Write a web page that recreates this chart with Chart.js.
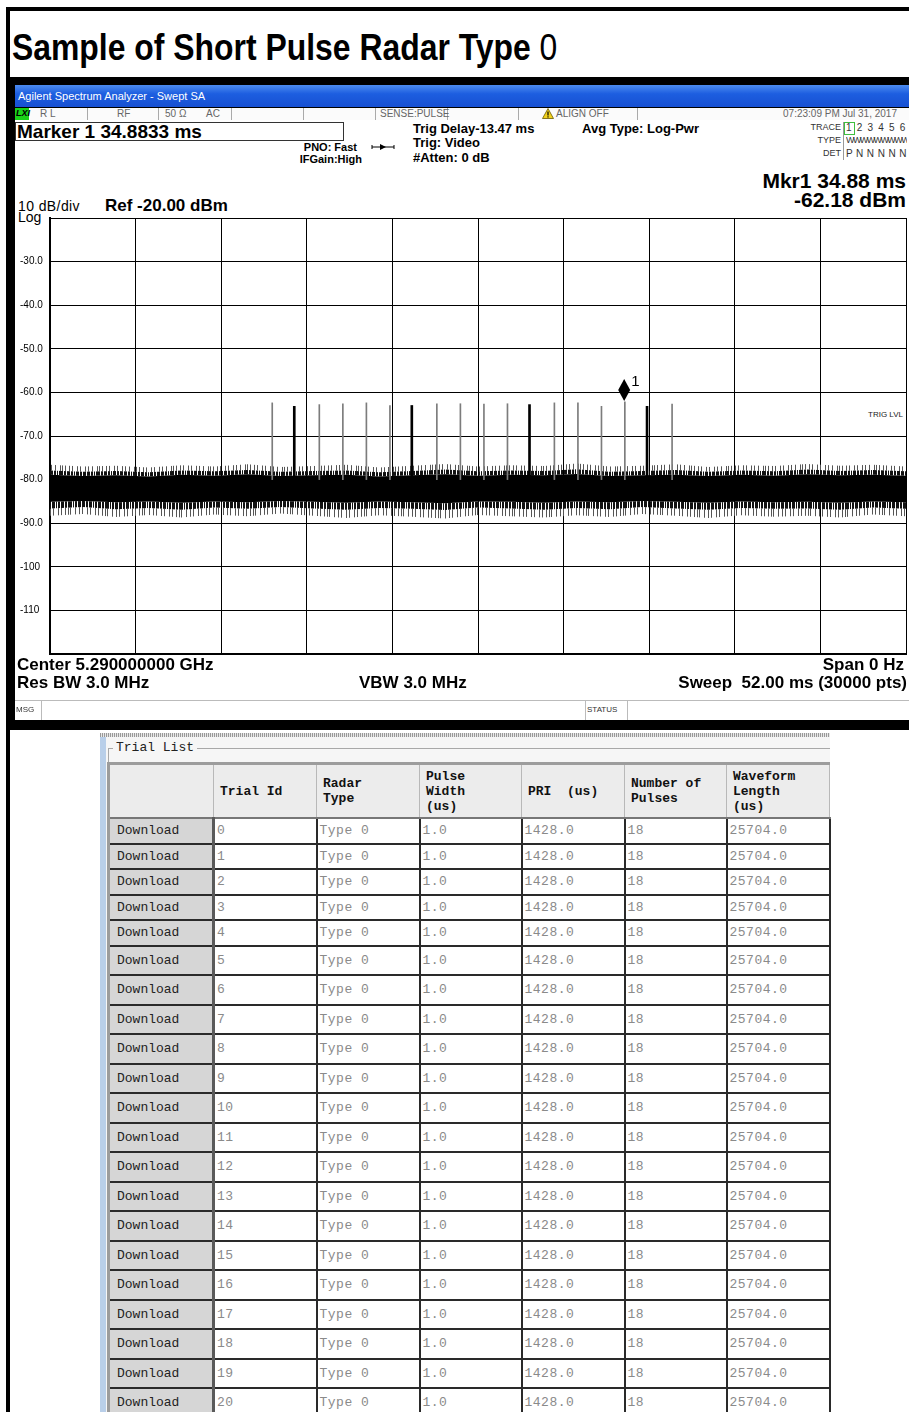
<!DOCTYPE html>
<html>
<head>
<meta charset="utf-8">
<script src="https://cdn.jsdelivr.net/npm/chart.js@4.4.1/dist/chart.umd.min.js"></script>
<style>
  html, body { margin: 0; padding: 0; }
  body { width: 909px; height: 1412px; position: relative; overflow: hidden; background: #fff;
         font-family: "Liberation Sans", Arial, sans-serif; color: #000; }
  .abs { position: absolute; white-space: nowrap; }
  .blk { position: absolute; background: #000; }
  .bold { font-weight: bold; }
  .lh { line-height: 1; }
  .gray { color: #666; }
  .sep { position: absolute; top: 108px; width: 1px; height: 12px; background: #aaa; }
  /* table */
  #trials { position: absolute; left: 107px; top: 762px; border-collapse: collapse; table-layout: fixed;
            border-top: 3px solid #9c9c9c; border-left: 3px solid #9c9c9c;
            font-family: "Liberation Mono", "DejaVu Sans Mono", monospace; font-size: 13px; }
  #trials th { background: #ececec; border: 1px solid #b8b8b8; border-bottom: 2px solid #777; height: 52px;
               text-align: left; vertical-align: middle; font-weight: bold; line-height: 15px;
               padding: 0 0 0 6px; color: #111; }
  #trials td { border: 2px solid #2a2a2a; padding: 0 0 0 2px; color: #8a8a8a; background: #fff;
               letter-spacing: 0.5px; overflow: hidden; white-space: nowrap; }
  #trials tr.short td { height: 23.5px; }
  #trials tr.tall td { height: 27.5px; }
  #trials td.btn { background: #d6d6d6; color: #222; padding-left: 7px;
                   border-top: 2px solid #fafafa; border-left: 2px solid #fafafa;
                   border-bottom: 2px solid #2a2a2a; border-right: 3px solid #5a5a5a; letter-spacing: 0; }
</style>
</head>
<body>
<!-- outer frame -->
<div class="blk" style="left:6px;top:7px;width:4px;height:1405px"></div>
<div class="blk" style="left:6px;top:7px;width:903px;height:4px"></div>
<div class="abs bold lh" style="left:12px;top:30px;font-size:36px;transform:scaleX(0.886);transform-origin:0 0">Sample of Short Pulse Radar Type <span style="font-weight:normal">0</span></div>

<!-- analyzer screen -->
<div class="blk" style="left:10px;top:77px;width:899px;height:653px"></div>
<div class="abs" style="left:15px;top:85px;width:894px;height:22px;background:linear-gradient(#4d8cf0,#1d5ee0 40%,#1750d2)"></div>
<div class="abs lh" style="left:18px;top:91px;font-size:11px;color:#fff">Agilent Spectrum Analyzer - Swept SA</div>
<div class="abs" style="left:15px;top:108px;width:894px;height:12px;background:#fbfbfb"></div>
<div class="abs" style="left:15px;top:108px;width:14px;height:12px;background:#19d219"></div>
<div class="abs lh bold" style="left:16px;top:109px;font-size:9px;font-style:italic">LXI</div>
<div class="sep" style="left:87px"></div><div class="sep" style="left:158px"></div><div class="sep" style="left:231px"></div>
<div class="sep" style="left:303px"></div><div class="sep" style="left:375px"></div><div class="sep" style="left:447px"></div>
<div class="sep" style="left:518px"></div><div class="sep" style="left:637px"></div>
<div class="abs lh gray" style="left:40px;top:109px;font-size:10px">R L</div>
<div class="abs lh gray" style="left:117px;top:109px;font-size:10px">RF</div>
<div class="abs lh gray" style="left:165px;top:109px;font-size:10px">50 Ω</div>
<div class="abs lh gray" style="left:206px;top:109px;font-size:10px">AC</div>
<div class="abs lh gray" style="left:380px;top:109px;font-size:10px">SENSE:PULSE</div>
<svg class="abs" style="left:542px;top:108px" width="12" height="11"><polygon points="6,0.5 11.5,10.5 0.5,10.5" fill="#f2d21b" stroke="#6a5a00" stroke-width="0.8"/><rect x="5.4" y="3.5" width="1.2" height="4" fill="#000"/><rect x="5.4" y="8.3" width="1.2" height="1.2" fill="#000"/></svg>
<div class="abs lh gray" style="left:556px;top:109px;font-size:10px">ALIGN OFF</div>
<div class="abs lh gray" style="right:12px;top:109px;font-size:10px">07:23:09 PM Jul 31, 2017</div>

<div class="abs" style="left:15px;top:120px;width:894px;height:600px;background:#fff"></div>
<div class="abs" style="left:15px;top:122px;width:327px;height:17px;border:1px solid #333"></div>
<div class="abs bold lh" style="left:17px;top:122px;font-size:19px">Marker 1 34.8833 ms</div>
<div class="abs bold lh" style="right:552px;top:142px;font-size:11px">PNO: Fast</div>
<div class="abs bold lh" style="right:547px;top:154px;font-size:11px">IFGain:High</div>
<svg class="abs" style="left:371px;top:143px" width="24" height="8"><line x1="1" y1="4" x2="23" y2="4" stroke="#000" stroke-width="1"/><polygon points="9,1 15,4 9,7" fill="#000"/><line x1="1" y1="2" x2="1" y2="6" stroke="#000"/><line x1="23" y1="2" x2="23" y2="6" stroke="#000"/></svg>
<div class="abs bold lh" style="left:413px;top:122px;font-size:13px">Trig Delay-13.47 ms</div>
<div class="abs bold lh" style="left:413px;top:136px;font-size:13px">Trig: Video</div>
<div class="abs bold lh" style="left:413px;top:151px;font-size:13px">#Atten: 0 dB</div>
<div class="abs bold lh" style="left:582px;top:122px;font-size:13px">Avg Type: Log-Pwr</div>
<div class="abs lh" style="right:68px;top:123px;font-size:9px;color:#333">TRACE</div>
<div class="abs lh" style="right:68px;top:136px;font-size:9px;color:#333">TYPE</div>
<div class="abs lh" style="right:68px;top:149px;font-size:9px;color:#333">DET</div>
<div class="abs" style="left:843px;top:122px;width:1px;height:38px;background:#999"></div>
<div class="abs" style="left:844px;top:122px;width:9px;height:11px;border:1px solid #3fbf3f"></div>
<div class="abs lh" style="left:846px;top:123px;font-size:10px;color:#333;letter-spacing:1.2px">1 2 3 4 5 6</div>
<div class="abs lh" style="left:846px;top:136px;width:61px;overflow:hidden;font-size:9px;color:#333;letter-spacing:-1.6px">WWWWWWWWWWWW</div>
<div class="abs lh" style="left:846px;top:149px;font-size:10px;color:#333;letter-spacing:0.4px">P N N N N N</div>
<div class="abs bold lh" style="right:3px;top:170px;font-size:21px">Mkr1 34.88 ms</div>
<div class="abs bold lh" style="right:3px;top:189px;font-size:21px">-62.18 dBm</div>
<div class="abs lh" style="left:18px;top:199px;font-size:14px;letter-spacing:0.4px">10 dB/div</div>
<div class="abs bold lh" style="left:105px;top:197px;font-size:17px">Ref -20.00 dBm</div>
<div class="abs lh" style="left:18px;top:210px;font-size:14px">Log</div>
<div class="abs lh" style="right:6px;top:411px;font-size:8px;color:#222">TRIG LVL</div>

<canvas id="sa" class="abs" style="left:10px;top:210px" width="899" height="450"></canvas>

<div class="abs bold lh" style="left:17px;top:656px;font-size:17px">Center 5.290000000 GHz</div>
<div class="abs bold lh" style="right:5px;top:656px;font-size:17px">Span 0 Hz</div>
<div class="abs bold lh" style="left:17px;top:674px;font-size:17px">Res BW 3.0 MHz</div>
<div class="abs bold lh" style="left:359px;top:674px;font-size:17px">VBW 3.0 MHz</div>
<div class="abs bold lh" style="right:2px;top:674px;font-size:17px;white-space:pre">Sweep  52.00 ms (30000 pts)</div>
<div class="abs" style="left:15px;top:700px;width:894px;height:1px;background:#bbb"></div>
<div class="abs" style="left:41px;top:701px;width:1px;height:19px;background:#bbb"></div>
<div class="abs" style="left:585px;top:701px;width:1px;height:19px;background:#bbb"></div>
<div class="abs" style="left:627px;top:701px;width:1px;height:19px;background:#bbb"></div>
<div class="abs lh" style="left:16px;top:706px;font-size:8px;color:#333">MSG</div>
<div class="abs lh" style="left:587px;top:706px;font-size:8px;color:#333">STATUS</div>

<!-- trial list panel -->
<div class="abs" style="left:100px;top:733px;width:730px;height:4px;background:repeating-linear-gradient(90deg,#999 0 1px,#e8e8e8 1px 2px)"></div>
<div class="abs" style="left:100px;top:737px;width:6px;height:675px;background:#b9cfe9"></div>
<div class="abs" style="left:106px;top:737px;width:724px;height:675px;background:#f6f6f6"></div>
<div class="abs" style="left:108px;top:748px;width:722px;height:1px;background:#a8a8a8"></div>
<div class="abs" style="left:108px;top:748px;width:1px;height:664px;background:#a8a8a8"></div>
<div class="abs lh" style="left:113px;top:741px;padding:0 3px;background:#f6f6f6;font-family:'Liberation Mono',monospace;font-size:13px;color:#222">Trial List</div>
<table id="trials"></table>

<script>
// ---- spectrum analyzer trace ----
const xGridTimes = [0, 5.2, 10.4, 15.6, 20.8, 26, 31.2, 36.4, 41.6, 46.8, 52];   // ms, 10 divisions
const yGridLevels = [-120, -110, -100, -90, -80, -70, -60, -50, -40, -30, -20]; // dBm, 10 dB/div

// noise floor envelope, sampled every 2 ms
const noiseTimes = [0, 2, 4, 6, 8, 10, 12, 14, 16, 18, 20, 22, 24, 26, 28, 30, 32, 34, 36, 38, 40, 42, 44, 46, 48, 50, 52];
const fringeTop = [-76.6, -77.0, -76.8, -77.2, -76.7, -77.0, -76.5, -77.1, -76.9, -76.6, -77.2, -76.8, -76.4, -77.0, -76.7, -76.9, -76.3, -77.0, -76.8, -76.5, -77.1, -76.7, -76.9, -76.4, -76.8, -76.6, -77.0];
const shadeTop  = [-77.9, -78.2, -78.0, -78.3, -77.9, -78.1, -77.8, -78.2, -78.0, -77.9, -78.3, -78.0, -77.7, -78.1, -77.9, -78.0, -77.6, -78.2, -78.0, -77.8, -78.2, -77.9, -78.1, -77.7, -78.0, -77.8, -78.1];
const coreTop   = [-78.9, -79.2, -79.0, -79.3, -78.9, -79.1, -78.8, -79.2, -79.0, -78.9, -79.3, -79.0, -78.8, -79.1, -78.9, -79.0, -78.7, -79.2, -79.0, -78.9, -79.2, -78.9, -79.1, -78.8, -79.0, -78.9, -79.1];
const coreBot   = [-85.1, -84.9, -85.2, -85.0, -85.3, -85.0, -85.2, -84.9, -85.1, -85.3, -85.0, -85.2, -85.4, -85.0, -85.1, -85.3, -85.0, -85.2, -84.9, -85.1, -85.3, -85.0, -85.2, -85.1, -85.3, -85.0, -85.2];
const shadeBot  = [-86.6, -86.3, -86.8, -86.5, -86.9, -86.4, -86.7, -86.3, -86.6, -86.9, -86.5, -86.7, -87.0, -86.4, -86.6, -86.9, -86.5, -86.8, -86.3, -86.6, -86.9, -86.5, -86.7, -86.6, -86.9, -86.4, -86.7];
const fringeBot = [-88.3, -87.9, -88.6, -88.1, -88.7, -88.0, -88.4, -87.8, -88.3, -88.8, -88.2, -88.5, -88.9, -88.1, -88.4, -88.7, -88.2, -88.6, -87.9, -88.3, -88.8, -88.2, -88.5, -88.3, -88.7, -88.0, -88.4];

// 18 pulses, PRI 1428 us
const pulseTimes = [13.47, 14.90, 16.33, 17.76, 19.19, 20.62, 22.04, 23.47, 24.90, 26.33, 27.76, 29.19, 30.61, 32.04, 33.47, 34.89, 36.33, 37.76];
const pulsePeaks = [-62.4, -63.2, -62.8, -62.6, -62.4, -63.0, -63.0, -62.6, -62.6, -62.7, -62.6, -62.8, -62.4, -62.4, -63.2, -62.18, -63.2, -62.7];
const pulseBase = -80;

const markerTime = 34.88;    // ms
const markerLevel = -62.18;  // dBm

// ---- trial list ----
const trialIds        = [0, 1, 2, 3, 4, 5, 6, 7, 8, 9, 10, 11, 12, 13, 14, 15, 16, 17, 18, 19, 20];
const radarTypes      = ['Type 0','Type 0','Type 0','Type 0','Type 0','Type 0','Type 0','Type 0','Type 0','Type 0','Type 0','Type 0','Type 0','Type 0','Type 0','Type 0','Type 0','Type 0','Type 0','Type 0','Type 0'];
const pulseWidths     = ['1.0','1.0','1.0','1.0','1.0','1.0','1.0','1.0','1.0','1.0','1.0','1.0','1.0','1.0','1.0','1.0','1.0','1.0','1.0','1.0','1.0'];
const pris            = ['1428.0','1428.0','1428.0','1428.0','1428.0','1428.0','1428.0','1428.0','1428.0','1428.0','1428.0','1428.0','1428.0','1428.0','1428.0','1428.0','1428.0','1428.0','1428.0','1428.0','1428.0'];
const pulseCounts     = [18, 18, 18, 18, 18, 18, 18, 18, 18, 18, 18, 18, 18, 18, 18, 18, 18, 18, 18, 18, 18];
const waveformLengths = ['25704.0','25704.0','25704.0','25704.0','25704.0','25704.0','25704.0','25704.0','25704.0','25704.0','25704.0','25704.0','25704.0','25704.0','25704.0','25704.0','25704.0','25704.0','25704.0','25704.0','25704.0'];
const headers = ['', 'Trial Id', 'Radar<br>Type', 'Pulse<br>Width<br>(us)', 'PRI&nbsp;&nbsp;(us)', 'Number of<br>Pulses', 'Waveform<br>Length<br>(us)'];

// pulses drawn darker/thicker on the screen
const darkPulses = new Set([1, 6, 11, 16]);

const canvas = document.getElementById('sa');
const ctx2d = canvas.getContext('2d');

// spiky texture for the noise fringes (purely a fill style)
function stripes(bits, color) {
  const c = document.createElement('canvas');
  c.width = bits.length; c.height = 1;
  const g = c.getContext('2d');
  g.fillStyle = color;
  [...bits].forEach((b, i) => { if (b === '1') g.fillRect(i, 0, 1, 1); });
  return ctx2d.createPattern(c, 'repeat');
}
const MID_BITS = '1101110110101111011011101101011101101';
const OUT_BITS = '0100100010000101001000100100001001000';
const rev = s => [...s].reverse().join('');

function band(values) { return noiseTimes.map((t, i) => ({ x: t, y: values[i] })); }
function pulses(dark) {
  return pulseTimes
    .map((t, i) => ({ x: t, y: [pulseBase, pulsePeaks[i]], i }))
    .filter(p => darkPulses.has(p.i) === dark);
}
function fillPair(top, bot, color, order) {
  return [
    { type: 'line', data: band(top), fill: '+1', backgroundColor: color, borderWidth: 0, pointRadius: 0, order },
    { type: 'line', data: band(bot), fill: false, borderWidth: 0, pointRadius: 0, order },
  ];
}

// diamond marker "1" sitting on the marked pulse
const markerPlugin = {
  id: 'marker1',
  afterDatasetsDraw(chart) {
    const { ctx, scales: { x, y } } = chart;
    const px = x.getPixelForValue(markerTime), py = y.getPixelForValue(markerLevel);
    ctx.save();
    ctx.fillStyle = '#000';
    ctx.beginPath();
    ctx.moveTo(px, py - 1);
    ctx.lineTo(px + 6, py - 12);
    ctx.lineTo(px, py - 23);
    ctx.lineTo(px - 6, py - 12);
    ctx.closePath();
    ctx.fill();
    ctx.font = '15px "Liberation Sans", Arial';
    ctx.textBaseline = 'middle';
    ctx.fillText('1', px + 7, py - 20);
    ctx.restore();
  },
};

new Chart(canvas, {
  type: 'line',
  data: {
    datasets: [
      { type: 'bar', data: pulses(true), backgroundColor: '#000', barThickness: 2, order: 0 },
      { type: 'bar', data: pulses(false), backgroundColor: '#7c7c7c', barThickness: 1, order: 0 },
      ...fillPair(coreTop, coreBot, '#000', 1),
      ...fillPair(shadeTop, coreTop, stripes(MID_BITS, '#111'), 2),
      ...fillPair(coreBot, shadeBot, stripes(rev(MID_BITS), '#111'), 2),
      ...fillPair(fringeTop, shadeTop, stripes(OUT_BITS, '#555'), 3),
      ...fillPair(shadeBot, fringeBot, stripes(rev(OUT_BITS), '#555'), 3),
    ],
  },
  options: {
    responsive: false,
    animation: false,
    layout: { padding: { left: 10, top: 8, right: 3, bottom: 5 } },
    plugins: { legend: { display: false }, tooltip: { enabled: false } },
    scales: {
      x: {
        type: 'linear', min: 0, max: 52, offset: false,
        afterBuildTicks: s => { s.ticks = xGridTimes.map(v => ({ value: v })); },
        afterFit: s => { s.height = 0; },
        ticks: { display: false },
        grid: { color: '#000', lineWidth: 1, drawTicks: false, offset: false },
        border: { color: '#000', width: 2 },
      },
      y: {
        type: 'linear', min: -120, max: -20,
        afterBuildTicks: s => { s.ticks = yGridLevels.map(v => ({ value: v })); },
        afterFit: s => { s.width = 30; },
        ticks: {
          crossAlign: 'far', padding: 0, color: '#000',
          font: { family: '"Liberation Sans", Arial', size: 10 },
          callback: v => (v === -20 || v === -120) ? '' : (v <= -100 ? String(v) : v.toFixed(1)),
        },
        grid: { color: '#000', lineWidth: 1, drawTicks: false },
        border: { color: '#000', width: 2 },
      },
    },
  },
  plugins: [markerPlugin],
});

// trial list table
(function buildTable() {
  const tbl = document.getElementById('trials');
  const widths = [105, 103, 103, 102, 103, 102, 103];
  const cg = document.createElement('colgroup');
  widths.forEach(w => { const c = document.createElement('col'); c.style.width = w + 'px'; cg.appendChild(c); });
  tbl.appendChild(cg);
  const hr = document.createElement('tr');
  headers.forEach(h => { const th = document.createElement('th'); th.innerHTML = h; hr.appendChild(th); });
  tbl.appendChild(hr);
  trialIds.forEach((id, i) => {
    const tr = document.createElement('tr');
    tr.className = i < 5 ? 'short' : 'tall';
    const cells = ['Download', id, radarTypes[i], pulseWidths[i], pris[i], pulseCounts[i], waveformLengths[i]];
    cells.forEach((v, j) => {
      const td = document.createElement('td');
      td.textContent = v;
      if (j === 0) td.className = 'btn';
      tr.appendChild(td);
    });
    tbl.appendChild(tr);
  });
})();
</script>
</body>
</html>
